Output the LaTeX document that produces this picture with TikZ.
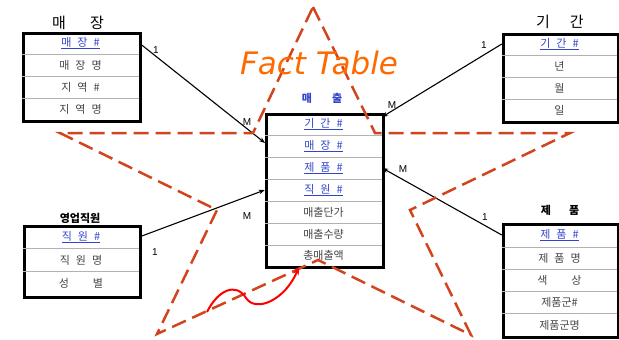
\documentclass[tikz,border=0pt]{standalone}
\usepackage{fontspec}
\setmainfont{Liberation Sans}
\newfontfamily\krfont{Noto Sans CJK KR}
\newfontfamily\factfont{DejaVu Sans}
\usetikzlibrary{arrows.meta}
\definecolor{rowgray}{HTML}{444444}
\definecolor{keyblue}{HTML}{3344CC}
\definecolor{starred}{HTML}{D2441E}
\definecolor{factorange}{HTML}{FF6A00}
\newcommand{\gp}{\hspace{6pt}}
\begin{document}
\begin{tikzpicture}[x=1pt,y=-1pt,
  tbl/.style={draw, line width=2.6pt, inner sep=0, anchor=north west},
  rowcell/.style={font=\krfont\fontsize{11}{11}\selectfont, text=rowgray, inner sep=0, minimum height=22pt},
  keycell/.style={rowcell, text=keyblue},
  sepline/.style={draw=gray!60, line width=0.8pt},
  rel/.style={line width=1.1pt, -{Stealth[length=6pt,width=4.5pt]}},
  card/.style={font=\fontsize{10}{10}\selectfont, inner sep=0},
  bigtitle/.style={font=\krfont\fontsize{15}{15}\selectfont, inner sep=0},
  smalltitle/.style={font=\krfont\bfseries\fontsize{11}{11}\selectfont, inner sep=0},
  starline/.style={draw=starred, line width=2.5pt, dash pattern=on 15pt off 7pt, line join=miter},
]
\useasboundingbox (0,0) rectangle (619,340);

% ---------- 매장 ----------
\node[bigtitle] (storeT) at (78,23) {매\hspace{24pt}장};
\node[tbl, minimum width=117pt, minimum height=88pt] (store) at (22,32) {};
\node[keycell, minimum width=117pt] (s1) at (80.5,43) {\underline{매\gp 장\gp \#}};
\node[rowcell, minimum width=117pt] (s2) at (80.5,65) {매\gp 장\gp 명};
\node[rowcell, minimum width=117pt] (s3) at (80.5,87) {지\gp 역\gp \#};
\node[rowcell, minimum width=117pt] (s4) at (80.5,109) {지\gp 역\gp 명};
\foreach \r in {s1,s2,s3} \draw[sepline] (\r.south west) -- (\r.south east);

% ---------- 기간 ----------
\node[bigtitle] (perT) at (560,22) {기\hspace{20pt}간};
\node[tbl, minimum width=115pt, minimum height=88pt] (period) at (502,33) {};
\node[keycell, minimum width=115pt] (p1) at (559.5,44) {\underline{기\gp 간\gp \#}};
\node[rowcell, minimum width=115pt] (p2) at (559.5,66) {년};
\node[rowcell, minimum width=115pt] (p3) at (559.5,88) {월};
\node[rowcell, minimum width=115pt] (p4) at (559.5,110) {일};
\foreach \r in {p1,p2,p3} \draw[sepline] (\r.south west) -- (\r.south east);

% ---------- 매출 ----------
\node[smalltitle, text=keyblue] (factT) at (322,98) {매\hspace{20pt}출};
\node[tbl, minimum width=117pt, minimum height=153pt] (fact) at (265,113) {};
\node[keycell, minimum width=117pt, minimum height=21.9pt] (f1) at (323.5,124) {\underline{기\gp 간\gp \#}};
\node[keycell, minimum width=117pt, minimum height=21.9pt] (f2) at (323.5,146) {\underline{매\gp 장\gp \#}};
\node[keycell, minimum width=117pt, minimum height=21.9pt] (f3) at (323.5,168) {\underline{제\gp 품\gp \#}};
\node[keycell, minimum width=117pt, minimum height=21.9pt] (f4) at (323.5,190) {\underline{직\gp 원\gp \#}};
\node[rowcell, minimum width=117pt, minimum height=21.9pt] (f5) at (323.5,212) {매출단가};
\node[rowcell, minimum width=117pt, minimum height=21.9pt] (f6) at (323.5,234) {매출수량};
\node[rowcell, minimum width=117pt, minimum height=21.9pt] (f7) at (323.5,255) {총매출액};
\foreach \r in {f1,f2,f3,f4,f5,f6} \draw[sepline] (\r.south west) -- (\r.south east);
\coordinate (fStore) at (265,143);
\coordinate (fPer) at (382,117);

% ---------- 영업직원 ----------
\node[smalltitle] (empT) at (80,218) {영업직원};
\node[tbl, minimum width=116pt, minimum height=71pt] (emp) at (23,225) {};
\node[keycell, minimum width=116pt, minimum height=23pt] (e1) at (81,237) {\underline{직\gp 원\gp \#}};
\node[rowcell, minimum width=116pt] (e2) at (81,260) {직\gp 원\gp 명};
\node[rowcell, minimum width=116pt] (e3) at (81,283) {성\hspace{24pt}별};
\foreach \r in {e1,e2} \draw[sepline] (\r.south west) -- (\r.south east);

% ---------- 제품 ----------
\node[smalltitle] (prodT) at (560,210) {제\hspace{18pt}품};
\node[tbl, minimum width=115pt, minimum height=113pt] (prod) at (502,223) {};
\node[keycell, minimum width=115pt, minimum height=24pt] (r1) at (559.5,235) {\underline{제\gp 품\gp \#}};
\node[rowcell, minimum width=115pt] (r2) at (559.5,258) {제\gp 품\gp 명};
\node[rowcell, minimum width=115pt] (r3) at (559.5,280) {색\hspace{24pt}상};
\node[rowcell, minimum width=115pt] (r4) at (559.5,302) {제품군\#};
\node[rowcell, minimum width=115pt] (r5) at (559.5,325) {제품군명};
\foreach \r in {r1,r2,r3,r4} \draw[sepline] (\r.south west) -- (\r.south east);

% ---------- relationships ----------
\draw[rel] (s1.east) -- (fStore);
\draw[rel] (p1.west) -- (fPer);
\draw[rel] (e1.east) -- (f4.west);
\draw[rel] (r1.west) -- (f3.east);

\node[card] (c1) at (156,50) {1};
\node[card] (c2) at (247,122) {M};
\node[card] (c3) at (484,45) {1};
\node[card] (c4) at (392,105) {M};
\node[card] (c5) at (155,252) {1};
\node[card] (c6) at (247,216) {M};
\node[card] (c7) at (485,217) {1};
\node[card] (c8) at (403,169) {M};

% ---------- star ----------
\coordinate (st1) at (313,7);
\coordinate (st2) at (375,133);
\coordinate (st3) at (570,133);
\coordinate (st4) at (410,210);
\coordinate (st5) at (471,335);
\coordinate (st6) at (318,260);
\coordinate (st7) at (157,334);
\coordinate (st8) at (217,210);
\coordinate (st9) at (60,133);
\coordinate (st10) at (253,133);
\draw[starline] (st1) -- (st2) -- (st3) -- (st4) -- (st5) -- (st6) -- (st7) -- (st8) -- (st9) -- (st10) -- cycle;

\node[font=\factfont\itshape\fontsize{31}{31}\selectfont, text=factorange, inner sep=0] (factlabel) at (319,63) {Fact Table};

% ---------- wavy arrow ----------
\coordinate (wv0) at (207,312);
\coordinate (wv1) at (246,298);
\coordinate (wv2) at (299,267);
\draw[red, line width=2pt, -{Stealth[length=8pt,width=6pt]}]
  (wv0) .. controls (218,290) and (236,282) .. (wv1)
        .. controls (256,313) and (285,300) .. (wv2);
\end{tikzpicture}
\end{document}
